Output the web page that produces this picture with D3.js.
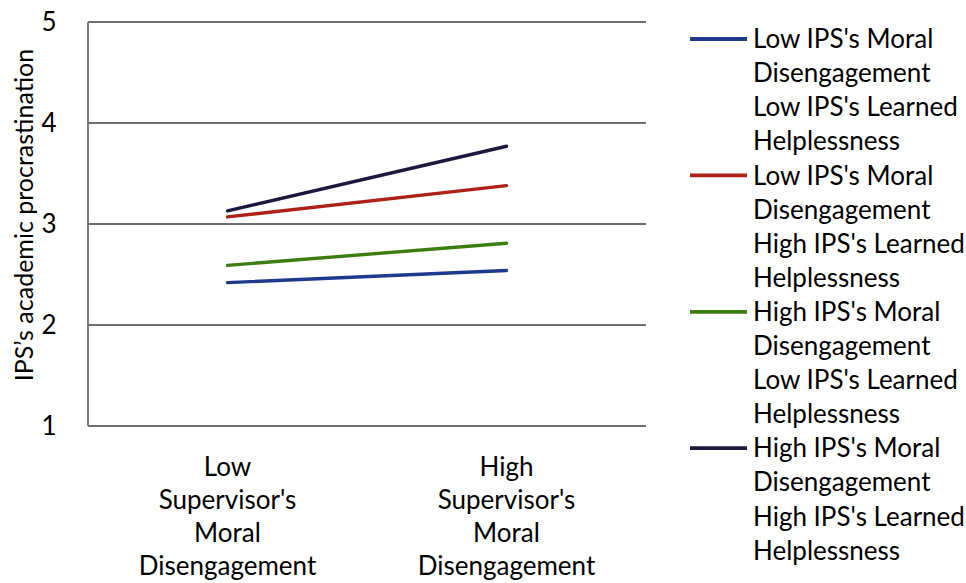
<!DOCTYPE html>
<html>
<head>
<meta charset="utf-8">
<script src="https://cdn.jsdelivr.net/npm/d3@7"></script>
<style>
  body { margin: 0; background: #fff; }
  svg { display: block; font-family: Lato, "Open Sans", sans-serif; }
</style>
</head>
<body>
<div id="chart"></div>
<script>
// data
const categories = [
  ["Low", "Supervisor's", "Moral", "Disengagement"],
  ["High", "Supervisor's", "Moral", "Disengagement"]
];
const seriesNames = [
  ["Low IPS's Moral", "Disengagement", "Low IPS's Learned", "Helplessness"],
  ["Low IPS's Moral", "Disengagement", "High IPS's Learned", "Helplessness"],
  ["High IPS's Moral", "Disengagement", "Low IPS's Learned", "Helplessness"],
  ["High IPS's Moral", "Disengagement", "High IPS's Learned", "Helplessness"]
];
const lowLow = [2.42, 2.54];
const lowHigh = [3.07, 3.38];
const highLow = [2.59, 2.81];
const highHigh = [3.13, 3.77];
const yTicks = [1, 2, 3, 4, 5];
const colors = ["#1e3a8e", "#ad2116", "#3c7d10", "#20173f"];

const seriesValues = [lowLow, lowHigh, highLow, highHigh];

const width = 966, height = 583;
const margin = { top: 22, right: 320, bottom: 157, left: 88 };

const svg = d3.select('#chart')
  .append('svg')
  .attr('width', width)
  .attr('height', height);

const xScale = d3.scaleBand()
  .domain(d3.range(categories.length))
  .range([margin.left, width - margin.right]);

const yScale = d3.scaleLinear()
  .domain([1, 5])
  .range([height - margin.bottom, margin.top]);

// gridlines
svg.append('g')
  .selectAll('line')
  .data(yTicks)
  .enter()
  .append('line')
  .attr('x1', margin.left)
  .attr('x2', width - margin.right)
  .attr('y1', d => yScale(d))
  .attr('y2', d => yScale(d))
  .attr('stroke', '#6e6e6e')
  .attr('stroke-width', 1.8);

// left axis line
svg.append('line')
  .attr('x1', margin.left)
  .attr('x2', margin.left)
  .attr('y1', yScale(5))
  .attr('y2', yScale(1))
  .attr('stroke', '#6e6e6e')
  .attr('stroke-width', 1.8);

// y tick labels
svg.append('g')
  .selectAll('text')
  .data(yTicks)
  .enter()
  .append('text')
  .attr('x', 49)
  .attr('y', d => yScale(d))
  .attr('dy', '0.35em')
  .attr('text-anchor', 'middle')
  .style('font-size', '26px')
  .style('fill', '#000')
  .text(d => d);

// y axis title
svg.append('text')
  .attr('transform', `translate(33, ${(yScale(5) + yScale(1)) / 2 - 9}) rotate(-90)`)
  .attr('text-anchor', 'middle')
  .style('font-size', '25px')
  .style('fill', '#000')
  .text("IPS’s academic procrastination");

// x category labels
const xLabels = svg.append('g')
  .selectAll('text')
  .data(categories)
  .enter()
  .append('text')
  .attr('text-anchor', 'middle')
  .style('font-size', '26px')
  .style('fill', '#000');

xLabels.selectAll('tspan')
  .data((d, i) => d.map(t => ({ t, i })))
  .enter()
  .append('tspan')
  .attr('x', d => xScale(d.i) + xScale.bandwidth() / 2)
  .attr('y', (d, j) => 476 + j * 33)
  .text(d => d.t);

// lines
const line = d3.line()
  .x((d, i) => xScale(i) + xScale.bandwidth() / 2)
  .y(d => yScale(d));

svg.append('g')
  .selectAll('path')
  .data(seriesValues)
  .enter()
  .append('path')
  .attr('d', d => line(d))
  .attr('fill', 'none')
  .attr('stroke', (d, i) => colors[i])
  .attr('stroke-width', 3.4)
  .attr('stroke-linecap', 'round');

// legend
const lineH = 34.1;
const legend = svg.append('g');
seriesNames.forEach((lines, i) => {
  const y0 = 39 + i * 4 * lineH;
  legend.append('line')
    .attr('x1', 690)
    .attr('x2', 747)
    .attr('y1', y0)
    .attr('y2', y0)
    .attr('stroke', colors[i])
    .attr('stroke-width', 3.8);
  lines.forEach((t, j) => {
    legend.append('text')
      .attr('x', 753)
      .attr('y', y0 + j * lineH)
      .attr('dy', '0.35em')
      .style('font-size', '26px')
      .style('fill', '#000')
      .text(t);
  });
});
</script>
</body>
</html>
